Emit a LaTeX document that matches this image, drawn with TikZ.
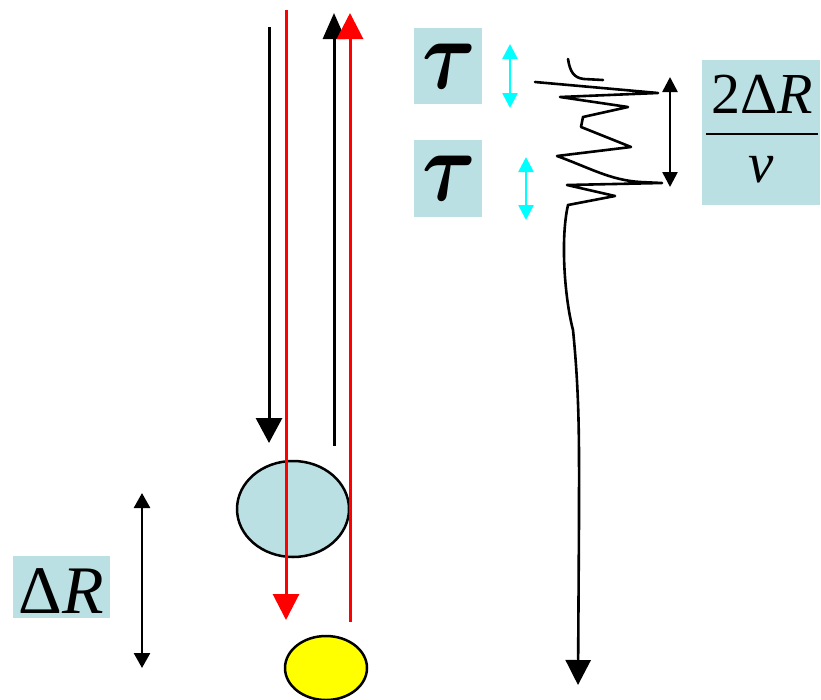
\documentclass[tikz,border=0pt]{standalone}
\usepackage{amsmath}
\usepackage{bm}
\usepackage{fontspec}
\setmainfont{Liberation Serif}
\usetikzlibrary{arrows.meta,shapes.geometric}
\definecolor{boxblue}{HTML}{BBE0E3}
\definecolor{sigcyan}{HTML}{00FFFF}
\definecolor{sigred}{HTML}{FF0000}
\definecolor{sigyellow}{HTML}{FFFF00}
\begin{document}
\begin{tikzpicture}[x=1pt,y=-1pt,
  lbl/.style={fill=boxblue, inner sep=0pt, text=black},
  ray/.style={line width=3pt},
  bighead/.style={-{Triangle[width=26pt,length=26pt]}},
  smallboth/.style={{Triangle[width=15pt,length=15pt]}-{Triangle[width=15pt,length=15pt]}, line width=2.6pt},
  wave/.style={line width=2.6pt, line join=round, line cap=round},
  blob/.style={ellipse, draw=black, line width=2.5pt, inner sep=0pt},
  taustyle/.style={inner sep=0pt, xscale=8.2, yscale=10}]
\useasboundingbox (0,0) rectangle (821,699);

% targets
\node[blob, fill=boxblue, minimum width=112pt, minimum height=96pt] (target1) at (293,509) {};
\node[blob, fill=sigyellow, minimum width=82pt, minimum height=64pt] (target2) at (326,668) {};

% rays
\coordinate (bdS) at (269,27);  \coordinate (bdE) at (269,443);
\coordinate (rdS) at (286,10);  \coordinate (rdE) at (286,620);
\coordinate (buS) at (334,446); \coordinate (buE) at (334,13);
\coordinate (ruS) at (350,622); \coordinate (ruE) at (350,13);
\draw[ray, -{Triangle[width=26pt,length=25pt]}] (bdS) -- (bdE);
\draw[ray, sigred, bighead] (rdS) -- (rdE);
\draw[ray, -{Triangle[width=22pt,length=26pt]}] (buS) -- (buE);
\draw[ray, sigred, bighead] (ruS) -- (ruE);

% labels
\node[lbl, minimum width=68pt, minimum height=76pt] (tau1) at (448,66) {};
\node[taustyle] (tau1t) at (449,66) {$\bm{\tau}$};
\node[lbl, minimum width=68pt, minimum height=77pt] (tau2) at (448,178.5) {};
\node[taustyle] (tau2t) at (449,178.5) {$\bm{\tau}$};
\node[lbl, minimum width=97pt, minimum height=62pt] (dR) at (61.5,587) {};
\node[anchor=base, inner sep=0pt] (dRtext) at (61.5,613) {\fontsize{68}{68}\selectfont Δ\textit{R}};
\node[lbl, minimum width=118pt, minimum height=145pt] (frac) at (761,132.5) {};
\node[anchor=base, inner sep=0pt] (num) at (762,113) {\fontsize{58}{58}\selectfont 2Δ\textit{R}};
\node[anchor=base, inner sep=0pt] (den) at (761,182) {\fontsize{57}{57}\selectfont\textit{v}};
\coordinate (fl) at (706,134); \coordinate (fr) at (818,134);
\draw[line width=2.4pt] (fl) -- (fr);

% small double arrows
\coordinate (c1a) at (510,44);  \coordinate (c1b) at (510,108);
\coordinate (c2a) at (526,157); \coordinate (c2b) at (526,220);
\coordinate (k1a) at (670,77);  \coordinate (k1b) at (670,187);
\coordinate (d1a) at (142,493); \coordinate (d1b) at (142,668);
\draw[smallboth, sigcyan] (c1a) -- (c1b);
\draw[smallboth, sigcyan] (c2a) -- (c2b);
\draw[smallboth] (k1a) -- (k1b);
\draw[smallboth, {Triangle[width=16pt,length=15pt]}-{Triangle[width=16pt,length=15pt]}] (d1a) -- (d1b);

% waveform
\coordinate (h0) at (568,59);
\coordinate (h1) at (603,80);
\draw[wave] (h0) .. controls (570,72) and (574,78) .. (584,79) -- (h1);
\coordinate (w0) at (535,82);
\coordinate (wend) at (578,685);
\draw[wave, -{Triangle[width=25pt,length=25pt]}] (w0) -- (658,93) -- (560,97) -- (628,107) -- (583,117) -- (581,127) -- (631,147) -- (557,156)
  .. controls (590,168) and (610,180) .. (640,182) -- (662,183) -- (567,185) -- (615,196) -- (568,205)
  .. controls (560,240) and (565,300) .. (573,330)
  .. controls (580,400) and (579,450) .. (579,520) -- (wend);
\end{tikzpicture}
\end{document}
